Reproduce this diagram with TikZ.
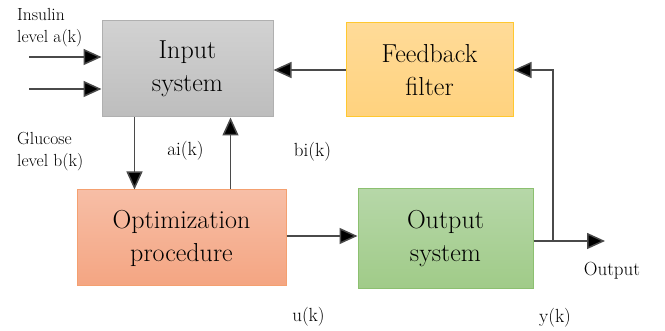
\documentclass[tikz,border=0pt]{standalone}
\usetikzlibrary{arrows.meta,calc}
\definecolor{linec}{HTML}{4A4A4A}
\definecolor{inTop}{HTML}{D2D2D2}
\definecolor{inBot}{HTML}{BDBDBD}
\definecolor{inBd}{HTML}{B0B0B0}
\definecolor{fbTop}{HTML}{FFDB98}
\definecolor{fbBot}{HTML}{FFD27E}
\definecolor{fbBd}{HTML}{FFC830}
\definecolor{opTop}{HTML}{F7BEA6}
\definecolor{opBot}{HTML}{F4A582}
\definecolor{opBd}{HTML}{F4A070}
\definecolor{ouTop}{HTML}{B6D7A8}
\definecolor{ouBot}{HTML}{A0CB88}
\definecolor{ouBd}{HTML}{8CC070}
\tikzset{
  blk/.style={rectangle, inner sep=0pt, line width=1pt, align=center,
    font=\fontsize{26}{33}\selectfont, text=black},
  lbl/.style={inner sep=0pt, font=\fontsize{19}{22}\selectfont, text=black},
  sidelbl/.style={inner sep=0pt, anchor=north west, align=left, font=\fontsize{17.5}{22}\selectfont, text=black},
  arr/.style={draw=linec, line width=1.5pt, -{Triangle[length=18pt,width=16pt,fill=black]}},
  ln/.style={draw=linec, line width=1.5pt}
}
\begin{document}
\begin{tikzpicture}[x=1pt,y=1pt]
\useasboundingbox (0,0) rectangle (665,331);
% blocks
\node[blk, draw=inBd, top color=inTop, bottom color=inBot, minimum width=171pt, minimum height=96pt] (inp) at (187.5,262) {Input\\system};
\node[blk, draw=fbBd, top color=fbTop, bottom color=fbBot, minimum width=167pt, minimum height=94pt] (fb) at (429.5,261) {Feedback\\filter};
\node[blk, draw=opBd, top color=opTop, bottom color=opBot, minimum width=209pt, minimum height=96pt] (opt) at (181.5,93) {Optimization\\procedure};
\node[blk, draw=ouBd, top color=ouTop, bottom color=ouBot, minimum width=175pt, minimum height=100pt] (outs) at (445.5,92) {Output\\system};
% coordinates
\coordinate (in1) at (29,274);
\coordinate (in2) at (29,242);
\coordinate (jn) at (553,90);
\coordinate (oend) at (605,90);
% labels
\node[sidelbl] (lins) at (17,323) {Insulin\\level a(k)};
\node[sidelbl] (lglu) at (17,199) {Glucose\\level b(k)};
\node[lbl] (lai) at (185.5,180) {ai(k)};
\node[lbl] (lbi) at (312.5,179) {bi(k)};
\node[lbl] (lu) at (308.5,14) {u(k)};
\node[lbl] (ly) at (555,13) {y(k)};
\node[lbl] (lout) at (612,60) {Output};
% connectors
\draw[arr] (in1) -- (in1 -| inp.west);
\draw[arr] (in2) -- (in2 -| inp.west);
\draw[arr] ([xshift=33pt]inp.south west) coordinate (d1) -- (d1 |- opt.north);
\draw[arr] ([xshift=154pt]opt.north west) coordinate (u1) -- (u1 |- inp.south);
\draw[arr] ([yshift=2pt]opt.east) coordinate (m1) -- (m1 -| outs.west);
\draw[arr] (outs.east |- oend) -- (oend);
\draw[arr] (jn) |- (fb.east);
\draw[arr] (fb.west) -- (fb.west -| inp.east);
\end{tikzpicture}
\end{document}
